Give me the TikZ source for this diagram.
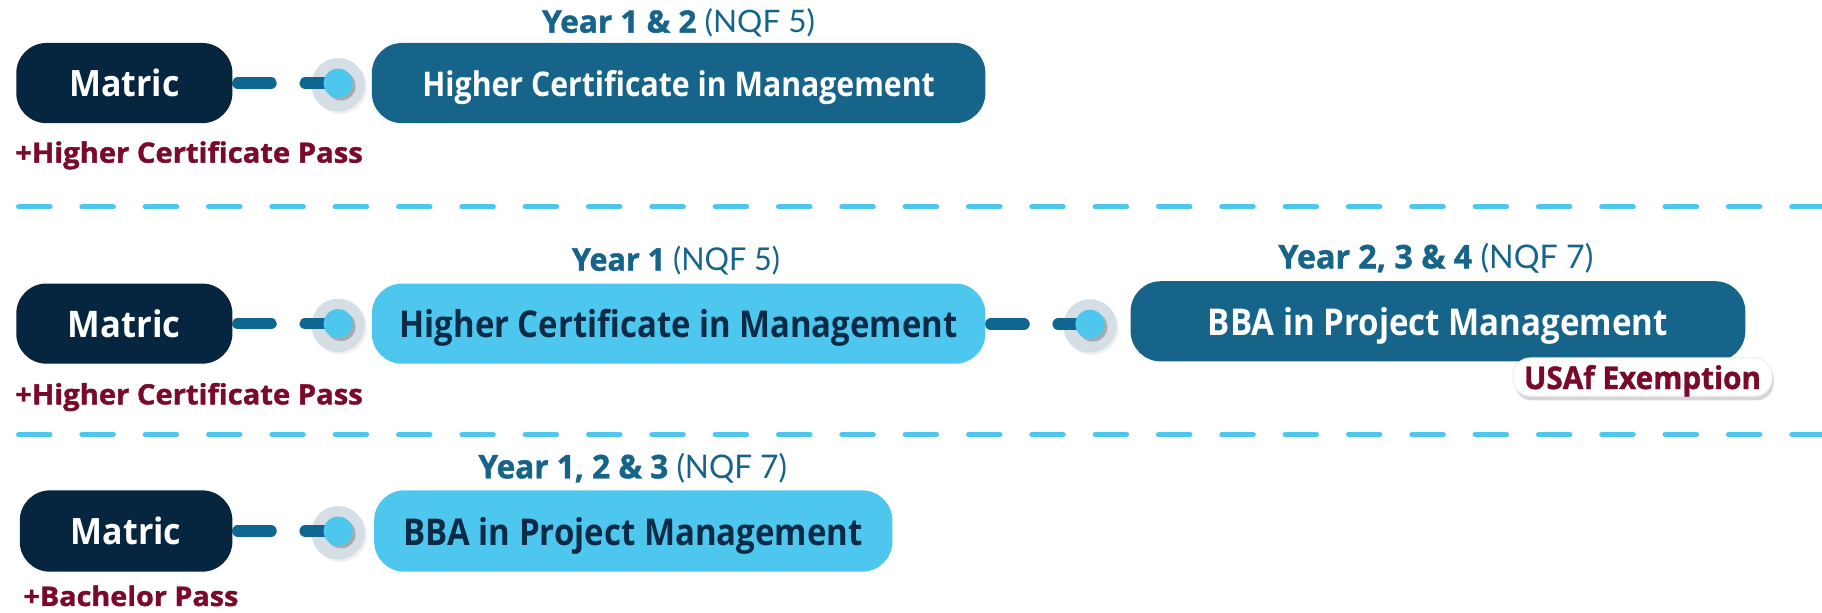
\documentclass[tikz,border=0pt]{standalone}
\usepackage{fontspec}
\setmainfont{Open Sans}
\newfontfamily\heavy{Open Sans}[UprightFont={* Bold}, FakeBold=1.3]
\newfontfamily\lightf{Lato}
\usetikzlibrary{shadows,calc}
\definecolor{navy}{HTML}{06253F}
\definecolor{tealc}{HTML}{17648B}
\definecolor{sky}{HTML}{4EC7EF}
\definecolor{stubc}{HTML}{0F6690}
\definecolor{maroonc}{HTML}{7A0A2A}
\definecolor{haloc}{HTML}{D6DEE5}
\definecolor{ink}{HTML}{0A2A45}
% text scaled to a given width (pt) and a given cap height (pt), with no depth
\newlength\capl
\newlength\wl
\newcommand{\fitc}[4]{%
  \settoheight{\capl}{#3H}\settowidth{\wl}{#3#4}%
  \pgfmathsetmacro\fitsx{#1/\wl}\pgfmathsetmacro\fitsy{#2/\capl}%
  \raisebox{0pt}[\height][0pt]{\scalebox{\fitsx}[\fitsy]{#3#4}}}
\pgfdeclarelayer{back}
\pgfdeclarelayer{mid}
\pgfsetlayers{back,mid,main}
\begin{document}
\begin{tikzpicture}[x=1pt,y=-1pt,
 pbox/.style={rounded corners=26pt, inner sep=0pt, minimum height=69pt, font=\bfseries},
 matricbox/.style={pbox, fill=navy, text=white, minimum width=186pt},
 darkbox/.style={pbox, fill=tealc, text=white},
 lightbox/.style={pbox, fill=sky, text=ink},
 stub/.style={draw=stubc, line width=10pt, line cap=round, dash pattern=on 28.5pt off 29.5pt},
 dotnode/.style={circle, fill=sky, minimum size=25pt, inner sep=0pt, drop shadow={opacity=0.35, shadow xshift=2.5pt, shadow yshift=-2.5pt, fill=black!70}},
 halonode/.style={circle, fill=haloc, minimum size=46pt, inner sep=0pt, drop shadow={opacity=0.12, shadow xshift=2pt, shadow yshift=-2pt}},
 yearlbl/.style={text=tealc, inner sep=0pt, anchor=base},
 passlbl/.style={text=maroonc, inner sep=0pt, anchor=base west},
 sepline/.style={draw=sky, line width=4.5pt, line cap=round, dash pattern=on 27pt off 27.5pt},
 badge/.style={fill=white, draw=black!7, line width=0.8pt, text=maroonc, rounded corners=15pt, minimum width=223pt, minimum height=33pt, inner sep=0pt, drop shadow={opacity=0.32, shadow xshift=1.5pt, shadow yshift=-3.5pt}},
]
\useasboundingbox (0,0) rectangle (1568,527);

% separators
\draw[sepline] (16,178) -- (1568,178);
\draw[sepline] (16,374) -- (1568,374);

% ---------- Row 1
\node[matricbox] (m1) at (107,71.5) {\fitc{95}{22.3}{}{Matric}};
\begin{pgfonlayer}{back}
\node[halonode] (g1) at (291,73) {};
\end{pgfonlayer}
\node[dotnode] (d1) at (291,71.5) {};
\node[darkbox, minimum width=528pt] (h1) at (584,71.5) {\fitc{441}{20.9}{}{Higher Certificate in Management}};
\node[yearlbl] (y1) at (584,28.1) {\fitc{235}{19}{\heavy}{{Year 1 \& 2} {\lightf(NQF 5)}}};
\node[passlbl] (p1) at (13,140) {\fitc{299}{17.2}{\heavy}{+Higher Certificate Pass}};
\begin{pgfonlayer}{mid}
\draw[stub] ([xshift=4.5pt]m1.east) -- (d1.center);
\end{pgfonlayer}

% ---------- Row 2
\node[matricbox] (m2) at (107,278.5) {\fitc{97}{22.5}{}{Matric}};
\begin{pgfonlayer}{back}
\node[halonode] (g2) at (291,280) {};
\node[halonode] (g3) at (938,280.5) {};
\end{pgfonlayer}
\node[dotnode] (d2) at (291,278.5) {};
\node[lightbox, minimum width=528pt] (h2) at (584,278.5) {\fitc{480}{22.7}{}{Higher Certificate in Management}};
\node[yearlbl] (y2) at (581.7,233) {\fitc{179}{19.3}{\heavy}{{Year 1} {\lightf(NQF 5)}}};
\node[dotnode] (d3) at (938,279) {};
\node[darkbox, minimum width=529pt] (b2) at (1237.5,276.5) {\fitc{396}{22.7}{}{BBA in Project Management}};
\node[yearlbl] (y3) at (1235.7,230.9) {\fitc{271}{20}{\heavy}{{Year 2, 3 \& 4} {\lightf(NQF 7)}}};
\node[badge] (u2) at (1413.5,324.5) {\fitc{204}{19.2}{\heavy}{USAf Exemption}};
\node[passlbl] (p2) at (13,348) {\fitc{299}{17.2}{\heavy}{+Higher Certificate Pass}};
\begin{pgfonlayer}{mid}
\draw[stub] ([xshift=4.5pt]m2.east) -- (d2.center);
\draw[stub] ([xshift=4.5pt]h2.east |- d3.center) -- (d3.center);
\end{pgfonlayer}

% ---------- Row 3
\node[matricbox, minimum width=183pt, minimum height=70pt] (m3) at (108.5,457) {\fitc{95}{22.3}{}{Matric}};
\begin{pgfonlayer}{back}
\node[halonode] (g4) at (291,458.5) {};
\end{pgfonlayer}
\node[dotnode] (d4) at (291,457) {};
\node[lightbox, minimum width=446pt, minimum height=70pt] (b3) at (545,457) {\fitc{395}{22.7}{}{BBA in Project Management}};
\node[yearlbl] (y4) at (544.5,411.6) {\fitc{265.5}{20}{\heavy}{{Year 1, 2 \& 3} {\lightf(NQF 7)}}};
\node[passlbl] (p3) at (20,521.5) {\fitc{185}{16.6}{\heavy}{+Bachelor Pass}};
\begin{pgfonlayer}{mid}
\draw[stub] ([xshift=4.5pt]m3.east) -- (d4.center);
\end{pgfonlayer}
\end{tikzpicture}
\end{document}
